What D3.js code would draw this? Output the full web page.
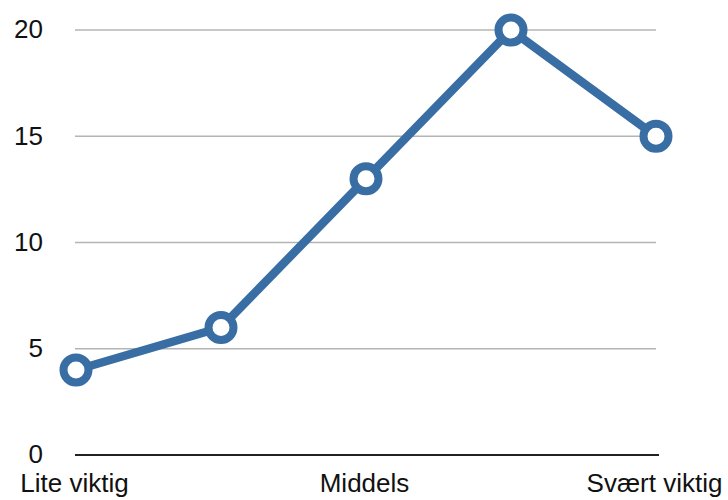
<!DOCTYPE html>
<html><head><meta charset="utf-8">
<script src="https://cdn.jsdelivr.net/npm/d3@7"></script>
<style>body{margin:0;background:#fff}svg{display:block}</style>
</head><body>
<svg id="c" width="728" height="500"></svg>
<script>
const categories = ["Lite viktig", "", "Middels", "", "Svært viktig"];
const values = [4, 6, 13, 20, 15];
const yTicks = [0, 5, 10, 15, 20];

const svg = d3.select("#c");
const x = d3.scalePoint().domain(d3.range(categories.length)).range([76, 656]);
const y = d3.scaleLinear().domain([0, 20]).range([455, 30]);
const font = "'Liberation Sans', Arial, Helvetica, sans-serif";

// gridlines
svg.append("g").selectAll("line").data(yTicks.filter(d => d > 0)).join("line")
  .attr("x1", 75).attr("x2", 656)
  .attr("y1", d => y(d)).attr("y2", d => y(d))
  .attr("stroke", "#b4b4b4").attr("stroke-width", 1.5);

// baseline
svg.append("line").attr("x1", 75).attr("x2", 659)
  .attr("y1", y(0)).attr("y2", y(0))
  .attr("stroke", "#222").attr("stroke-width", 2);

// y axis labels
const yAxis = d3.axisLeft(y).tickValues(yTicks).tickSize(0).tickPadding(0);
const ga = svg.append("g").attr("transform", "translate(43,0)").call(yAxis);
ga.select(".domain").remove();
ga.selectAll("text").attr("font-family", font).attr("font-size", 26).attr("fill", "#111").attr("dy", "0.3em");

// x labels
const xAxis = d3.axisBottom(x).tickFormat(i => categories[i]).tickSize(0).tickPadding(0);
const gx = svg.append("g").attr("transform", "translate(-2,474)").call(xAxis);
gx.select(".domain").remove();
gx.selectAll("text").attr("font-family", font).attr("font-size", 26).attr("fill", "#111").attr("dy", "0.71em");

// line
const line = d3.line().x((d, i) => x(i)).y(d => y(d));
svg.append("path").datum(values).attr("d", line)
  .attr("fill", "none").attr("stroke", "#386ea4").attr("stroke-width", 8.5)
  .attr("stroke-linejoin", "round");

svg.append("g").selectAll("circle").data(values).join("circle")
  .attr("cx", (d, i) => x(i)).attr("cy", d => y(d)).attr("r", 12.5)
  .attr("fill", "#fff").attr("stroke", "#386ea4").attr("stroke-width", 8);
</script>
</body></html>
